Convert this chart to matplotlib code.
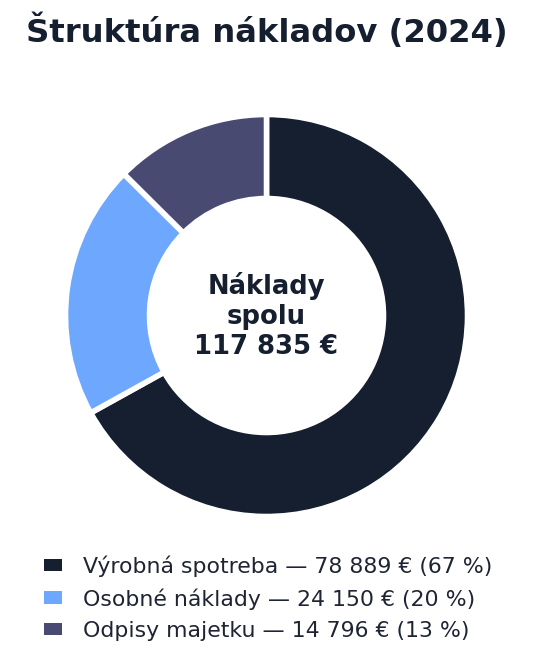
import matplotlib
matplotlib.use("Agg")
import matplotlib.pyplot as plt
from matplotlib.patches import Patch

categories = ["Výrobná spotreba", "Osobné náklady", "Odpisy majetku"]
values = [78889, 24150, 14796]
value_labels = ["78 889 €", "24 150 €", "14 796 €"]
pct_labels = ["67 %", "20 %", "13 %"]
colors = ["#151f30", "#6ea8fe", "#484a72"]
title = "Štruktúra nákladov (2024)"
center_text = "Náklady\nspolu\n117 835 €"

W, H = 533, 664
fig = plt.figure(figsize=(W / 100, H / 100), dpi=100)
cx, cy, R = 266.5, 315.5, 200
ax = fig.add_axes([(cx - R) / W, (H - cy - R) / H, 2 * R / W, 2 * R / H])
ax.pie(values, colors=colors, startangle=90, counterclock=False, radius=1.005,
       wedgeprops=dict(width=0.42, edgecolor="white", linewidth=4))
ax.set_xlim(-1, 1)
ax.set_ylim(-1, 1)
ax.set_aspect("equal")
ax.axis("off")
ax.text(0, 0, center_text, ha="center", va="center", fontsize=18.6,
        fontweight="bold", color="#151f30", linespacing=1.2)

fig.text(0.5, 1 - 31 / H, title, ha="center", va="center", fontsize=23.2,
         fontweight="bold", color="#151f30")

handles = [Patch(facecolor=c, edgecolor="none") for c in colors]
labels = [f"{c} — {v} ({p})" for c, v, p in zip(categories, value_labels, pct_labels)]
fig.legend(handles, labels, loc="center", bbox_to_anchor=(0.5035, 1 - 598 / H),
           frameon=False, fontsize=15.85, labelcolor="#1e2433",
           handlelength=0.8, handleheight=0.5, handletextpad=0.95, labelspacing=0.51)

fig.savefig("out.png", dpi=100, facecolor="white")
